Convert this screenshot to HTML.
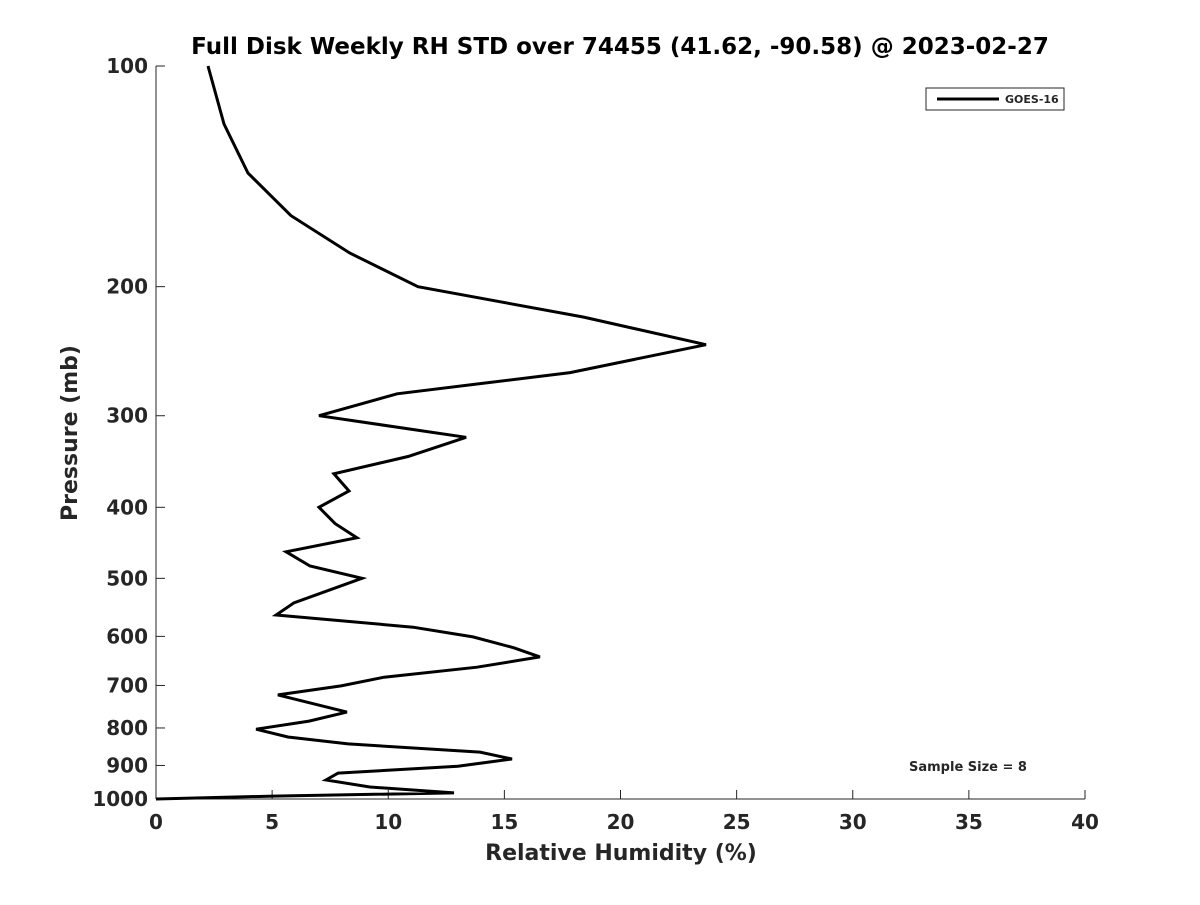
<!DOCTYPE html>
<html><head><meta charset="utf-8"><style>
body{margin:0;background:#fff;font-family:"Liberation Sans","DejaVu Sans",sans-serif}
svg text{font-family:"DejaVu Sans","Liberation Sans",sans-serif;fill:#262626}
</style></head><body>
<svg id="chart" width="1200" height="900">
<text x="620" y="54" text-anchor="middle" font-size="23" font-weight="bold" fill="#000" style="fill:#000">Full Disk Weekly RH STD over 74455 (41.62, -90.58) @ 2023-02-27</text>
<g id="axes"></g>
<polyline id="line" fill="none" stroke="#000" stroke-width="3" stroke-linejoin="miter"/>
<g>
<rect x="926" y="88" width="138" height="22" fill="#fff" stroke="#262626" stroke-width="1"/>
<line x1="937" y1="99" x2="999" y2="99" stroke="#000" stroke-width="3"/>
<text x="1005" y="103" font-size="11" font-weight="bold">GOES-16</text>
</g>
<text x="968" y="771" text-anchor="middle" font-size="13" font-weight="bold" fill="#000">Sample Size = 8</text>
<text x="621" y="860" text-anchor="middle" font-size="22" font-weight="bold">Relative Humidity (%)</text>
<text transform="translate(77,433) rotate(-90)" text-anchor="middle" font-size="22" font-weight="bold">Pressure (mb)</text>
</svg>
<script>
const rhValues=[2.24,2.93,3.96,5.81,8.35,11.28,18.39,23.68,17.83,10.38,7.02,13.35,10.85,7.66,8.31,7.02,7.71,8.65,5.60,6.63,8.87,5.94,5.17,11.07,13.65,15.41,16.53,13.82,9.82,7.97,5.25,8.22,6.59,4.31,5.68,8.27,13.95,15.33,13.0,7.84,7.32,9.21,12.83,5.04,0];
const pressures=[100,120,140,160,180,200,220,240,262,280,300,321,341,360,380,400,421,440,460,481,500,540,561,583,601,622,640,661,682,701,721,761,783,803,823,841,863,882,902,922,942,963,981,991,1000];
const xTicks=[0,5,10,15,20,25,30,35,40];
const yTicks=[100,200,300,400,500,600,700,800,900,1000];
const X0=156,X1=1085,Y0=66,Y1=799;
const xs=v=>X0+(v/40)*(X1-X0);
const ys=p=>Y0+(Math.log10(p)-2)*(Y1-Y0);
const ns="http://www.w3.org/2000/svg";
const ax=document.getElementById('axes');
function mk(t,a){const e=document.createElementNS(ns,t);for(const k in a)e.setAttribute(k,a[k]);ax.appendChild(e);return e;}
let l=mk('line',{x1:X0,y1:Y0,x2:X0,y2:Y1,stroke:'#262626','stroke-width':1});


l=mk('line',{x1:X0,y1:Y1,x2:X1,y2:Y1,stroke:'#262626','stroke-width':1});


xTicks.forEach(v=>{const x=xs(v);
mk('line',{x1:x,y1:Y1,x2:x,y2:Y1-9,stroke:'#262626','stroke-width':1});
const t=mk('text',{x:x,y:829,'text-anchor':'middle','font-size':20,'font-weight':'bold'});t.textContent=v;

});
yTicks.forEach(p=>{const y=ys(p);
mk('line',{x1:X0,y1:y,x2:X0+9,y2:y,stroke:'#262626','stroke-width':1});
const t=mk('text',{x:148,y:y+7,'text-anchor':'end','font-size':20,'font-weight':'bold'});t.textContent=p;

});
document.getElementById('line').setAttribute('points',rhValues.map((v,i)=>xs(v).toFixed(1)+','+ys(pressures[i]).toFixed(1)).join(' '));
</script>
</body></html>
